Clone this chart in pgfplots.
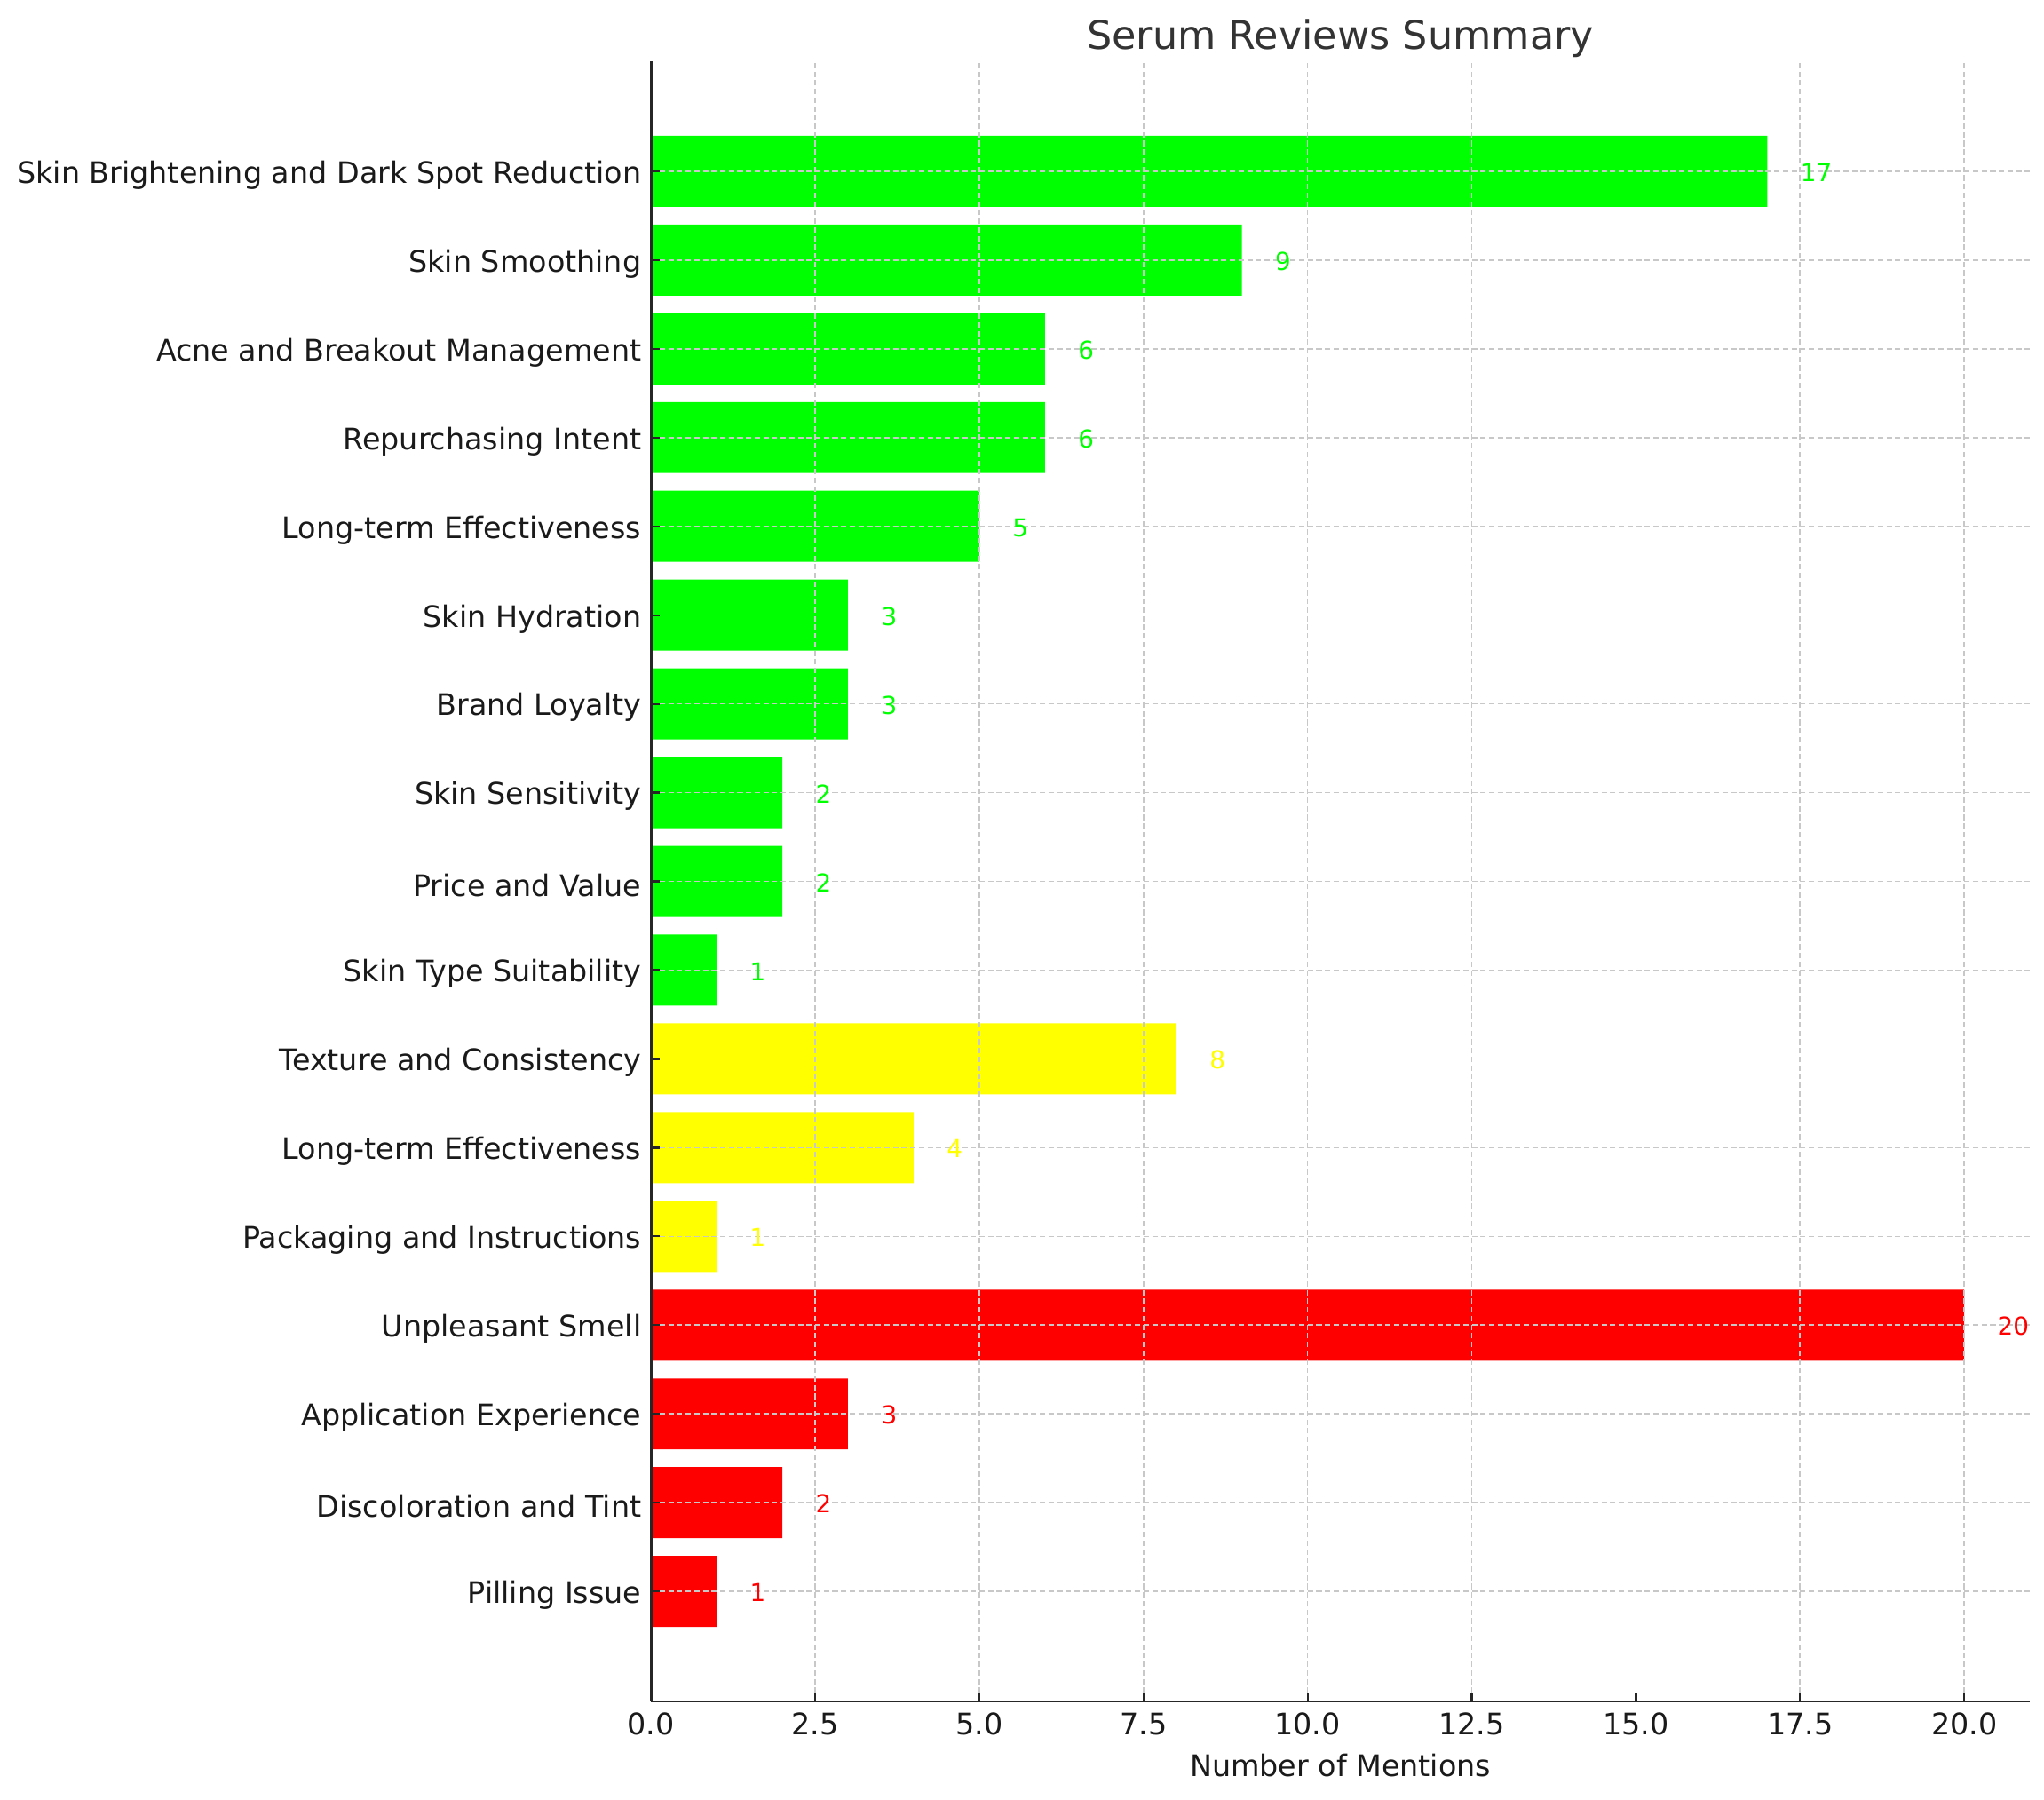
\documentclass[border=0pt]{standalone}
\usepackage{fontspec}
\setmainfont{DejaVu Sans}
\usepackage{pgfplots}
\pgfplotsset{compat=1.18}
\definecolor{gridc}{HTML}{C8C8C8}
\definecolor{axc}{HTML}{262626}
\definecolor{txtc}{HTML}{1A1A1A}
\definecolor{titlec}{HTML}{333333}
\definecolor{cgreen}{HTML}{00FF00}
\definecolor{cyellow}{HTML}{FFFF00}
\definecolor{cred}{HTML}{FF0000}
\begin{document}
\begin{tikzpicture}
\begin{axis}[
  at={(0,0)}, anchor=south west,
  scale only axis, width=558.6pt, height=664.4pt,
  xbar, bar width=0.8, bar shift=0pt,
  xmin=0, xmax=21, ymin=-1.24, ymax=17.24,
  axis lines*=left,
  axis line style={axc, line width=1pt},
  axis on top,
  xtick={0,2.5,...,20},
  xticklabel style={/pgf/number format/fixed, /pgf/number format/fixed zerofill, /pgf/number format/precision=1},
  ytick={0,...,16},
  yticklabels={Pilling Issue, Discoloration and Tint, Application Experience, Unpleasant Smell, Packaging and Instructions, Long-term Effectiveness, Texture and Consistency, Skin Type Suitability, Price and Value, Skin Sensitivity, Brand Loyalty, Skin Hydration, Long-term Effectiveness, Repurchasing Intent, Acne and Breakout Management, Skin Smoothing, Skin Brightening and Dark Spot Reduction},
  /pgf/number format/assume math mode=true,
  tick align=inside, major tick length=3.5pt,
  tick style={axc, line width=0.8pt},
  ticklabel style={font=\fontsize{12}{14}\selectfont, text=txtc, inner sep=0pt},
  xticklabel style={anchor=north, yshift=-4.5pt},
  yticklabel style={anchor=east, xshift=-3.7pt, yshift=-1.5pt},
  grid=major,
  grid style={gridc, line width=0.6pt, dash pattern=on 2.2pt off 1.3pt},
  title={Serum Reviews Summary},
  title style={at={(0.5,1)}, anchor=base, yshift=-1pt, font=\fontsize{16}{19}\selectfont, text=titlec, inner sep=0pt},
  xlabel={Number of Mentions},
  xlabel style={at={(0.5,0)}, anchor=base, yshift=-30.4pt, font=\fontsize{12}{14}\selectfont, text=txtc, inner sep=0pt},
  point meta=x,
  nodes near coords,
  every node near coord/.append style={font=\fontsize{10}{12}\selectfont, anchor=west, xshift=13.3pt, yshift=-0.5pt, inner sep=0pt},
]
\addplot[fill=cred, draw=none, every node near coord/.append style={text=cred}] coordinates {(1,0) (2,1) (3,2) (20,3)};
\addplot[fill=cyellow, draw=none, every node near coord/.append style={text=cyellow}] coordinates {(1,4) (4,5) (8,6)};
\addplot[fill=cgreen, draw=none, every node near coord/.append style={text=cgreen}] coordinates {(1,7) (2,8) (2,9) (3,10) (3,11) (5,12) (6,13) (6,14) (9,15) (17,16)};
\end{axis}
\pgfresetboundingbox
\path[use as bounding box] (-263.7pt,-39.6pt) rectangle (564.3pt,689.2pt);
\end{tikzpicture}
\end{document}
